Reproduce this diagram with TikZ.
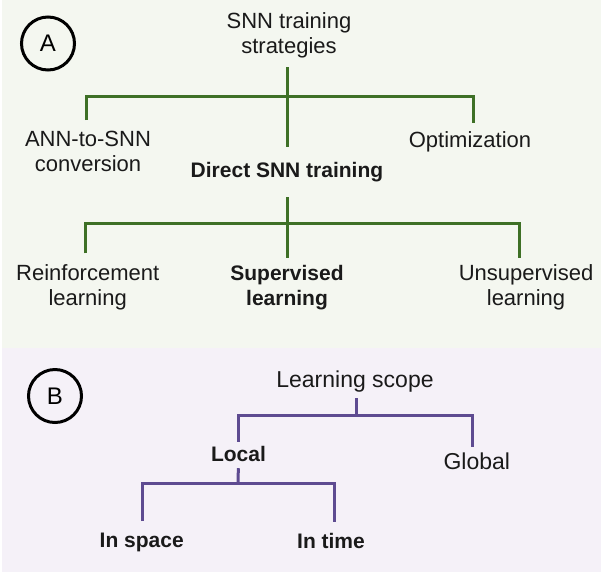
\documentclass[tikz,border=0pt]{standalone}
\usepackage{fontspec}
\setmainfont{Liberation Sans}
\definecolor{ink}{HTML}{1A1A1A}
\definecolor{linea}{HTML}{3E7026}
\definecolor{lineb}{HTML}{5E4B91}
\definecolor{panela}{HTML}{F4F7F0}
\definecolor{panelb}{HTML}{F5F1F8}

\begin{document}
\begin{tikzpicture}[x=1pt, y=-1pt,
	lab/.style = {inner sep=0pt, anchor=north, align=center, text=ink, font=\fontsize{22}{25}\selectfont},
	big lab/.style = {lab, font=\fontsize{23}{26}\selectfont},
	bold lab/.style = {lab, font=\fontsize{21}{25}\selectfont\bfseries},
	panel tag/.style = {draw=black, line width=3pt, circle, minimum size=53pt, inner sep=0pt, text=black, font=\fontsize{24}{28}\selectfont},
	tree a/.style = {draw=linea, line width=3pt},
	tree b/.style = {draw=lineb, line width=3pt}]
\useasboundingbox (0,0) rectangle (601,574);
\fill[panela] (2,0) rectangle (601,347.5);
\fill[panelb] (2,347.5) rectangle (601,571.5);

\node[panel tag]			(tag a)		at (48,43.5)	{A};
\node[panel tag]			(tag b)		at (55,396)		{B};

\node[lab]					(root)		at (289,12.5)	{SNN training\\strategies};
\node[lab]					(ann)		at (88,131)		{ANN-to-SNN\\conversion};
\node[lab]					(opt)		at (470,131)	{Optimization};
\node[bold lab]				(direct)	at (287,162.3)	{Direct SNN training};
\node[lab]					(rei)		at (87.7,264.3)	{Reinforcement\\learning};
\node[bold lab]				(sup)		at (287,265)	{Supervised\\learning};
\node[lab]					(uns)		at (526,264.3)	{Unsupervised\\learning};
\coordinate					(ja)		at (287,96);
\coordinate					(jd)		at (287,223.3);

\draw[tree a, shorten <=9pt, shorten >=15pt] ([xshift=-2pt]root.south) -- (direct.north);
\draw[tree a, shorten <=11pt, shorten >=7.7pt] ([xshift=-2pt]ann.north) |- (ja) -| ([xshift=3pt]opt.north);
\draw[tree a, shorten <=15pt, shorten >=7pt] (direct.south) -- (sup.north);
\draw[tree a, shorten <=11pt, shorten >=6pt] ([xshift=-2pt]rei.north) |- (jd) -| ([xshift=-6.7pt]uns.north);

\node[big lab]				(scope)		at (355,370.2)	{Learning scope};
\node[bold lab]				(local)		at (238.5,446)	{Local};
\node[big lab]				(global)	at (476.8,452.8){Global};
\node[bold lab]				(space)		at (141.7,533.3){In space};
\node[bold lab]				(time)		at (331,533.3)	{In time};
\coordinate					(jb)		at (356,415);
\coordinate					(jc)		at (238,483.5);

\draw[tree b, shorten <=6.2pt] ([xshift=1pt]scope.south) -- (jb);
\draw[tree b, shorten <=4.3pt, shorten >=6.1pt] (local.north) |- (jb) -| ([xshift=-4pt]global.north);
\draw[tree b, shorten <=6.4pt] (local.south) -- (jc);
\draw[tree b, shorten <=12.3pt, shorten >=11.6pt] ([xshift=1pt]space.north) |- (jc) -| ([xshift=3.3pt]time.north);

\end{tikzpicture}
\end{document}
